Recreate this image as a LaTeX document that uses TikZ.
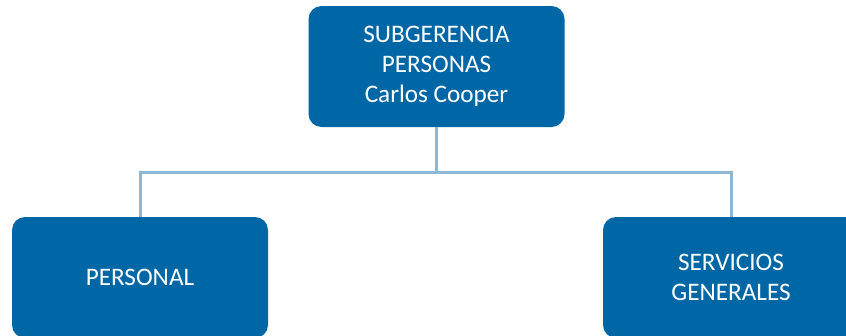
\documentclass[tikz,border=0pt]{standalone}
\usepackage{fontspec}
\setmainfont{Carlito}
\definecolor{boxblue}{RGB}{0,103,166}
\definecolor{linkblue}{RGB}{143,183,214}
\begin{document}
\begin{tikzpicture}[x=1pt,y=-1pt,
  orgbox/.style={fill=boxblue, rounded corners=13pt, minimum width=256pt, minimum height=121pt,
    text=white, align=center, inner sep=0pt, font=\fontsize{25.2}{30}\selectfont},
  link/.style={draw=linkblue, line width=3pt}]
\useasboundingbox (0,0) rectangle (846,335);
\clip (0,0) rectangle (846,335);
\node[orgbox] (top) at (436.5,66.5) {SUBGERENCIA\\PERSONAS\\Carlos Cooper};
\node[orgbox] (left) at (140,277.5) {PERSONAL};
\node[orgbox] (right) at (731,277.5) {SERVICIOS\\GENERALES};
\coordinate (mid) at (436.5,172);
\draw[link] (top.south) -- (mid);
\draw[link] (left.north) |- (mid) -| (right.north);
\end{tikzpicture}
\end{document}
